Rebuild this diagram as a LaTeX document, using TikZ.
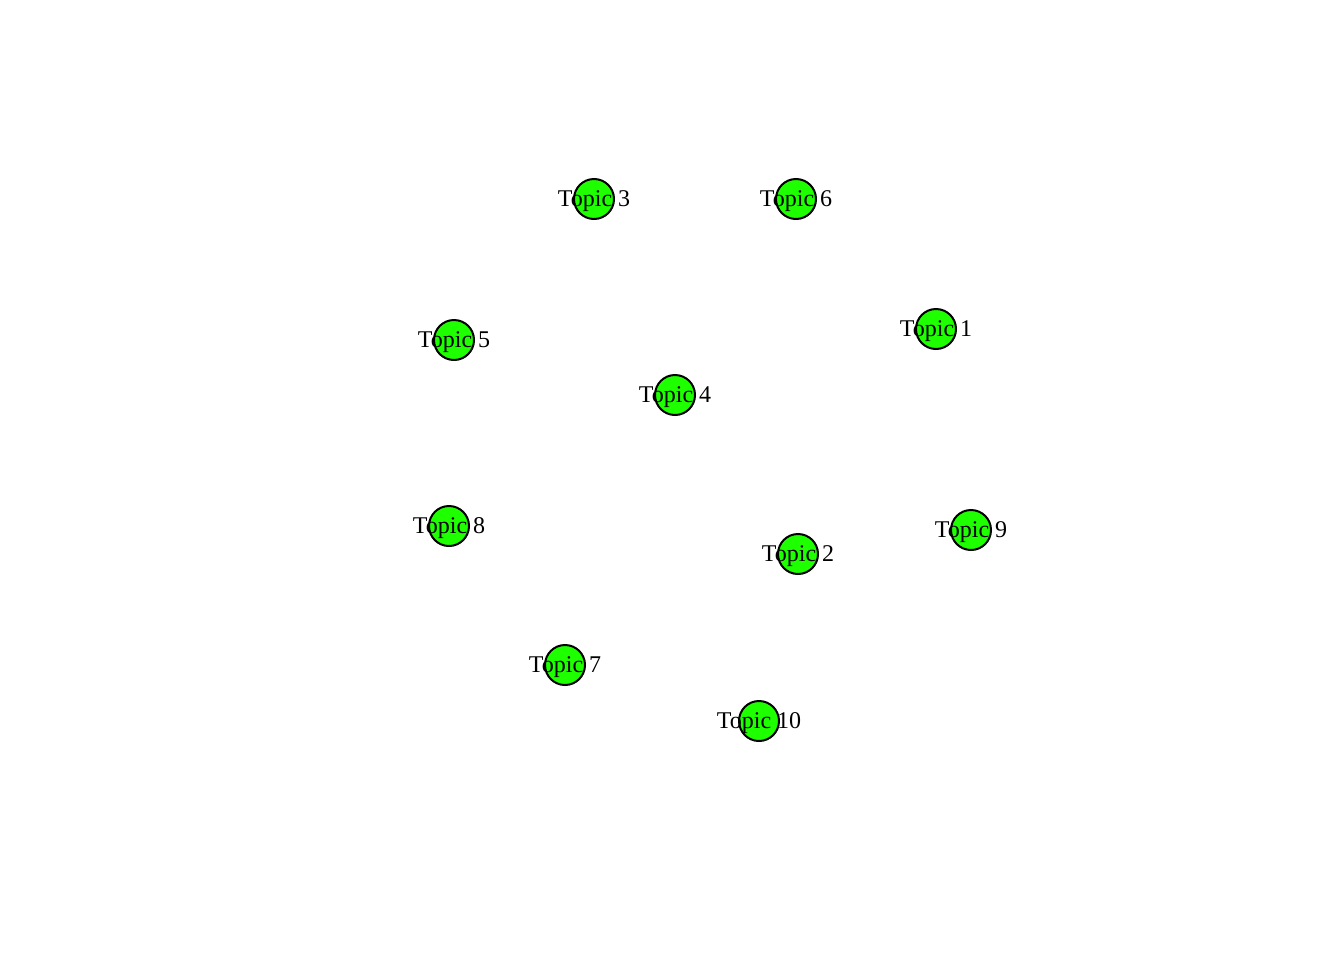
\documentclass[tikz,border=0pt]{standalone}
\usepackage{fontspec}
\setmainfont{Liberation Serif}
\definecolor{vgreen}{RGB}{30,255,0}
\begin{document}
\begin{tikzpicture}[x=0.75pt,y=-0.75pt,
  vert/.style={circle,draw=black,line width=1.5pt,fill=vgreen,minimum size=30pt,inner sep=0pt},
  lab/.style={font=\fontsize{18}{20}\selectfont,inner sep=0pt,yshift=-1.5pt}]
\useasboundingbox (0,0) rectangle (1344,960);
\foreach \n/\x/\y in {1/936/329,2/798/554,3/594/199,4/675/395,5/454/340,6/796/199,7/565/665,8/449/526,9/971/530,10/759/721}{
  \node[vert] (t\n) at (\x,\y) {};
  \node[lab] (l\n) at (t\n) {Topic \n};
}
\end{tikzpicture}
\end{document}
